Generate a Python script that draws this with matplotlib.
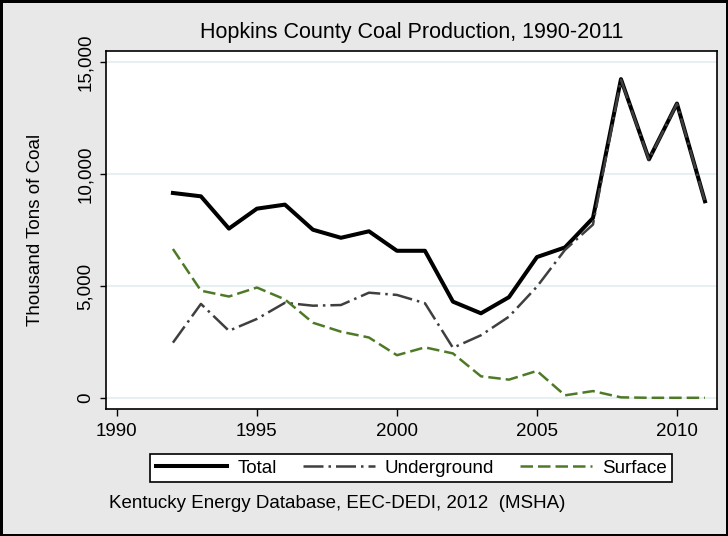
import matplotlib
matplotlib.use("Agg")
import matplotlib.pyplot as plt
from matplotlib.ticker import FuncFormatter

plt.rcParams['font.family'] = ['Liberation Sans', 'DejaVu Sans']

# Data (thousand tons)
years = list(range(1992, 2012))
total = [9150, 9000, 7560, 8450, 8630, 7510, 7150, 7440, 6570, 6570,
         4300, 3780, 4500, 6290, 6720, 8030, 14230, 10650, 13140, 8780]
underground = [2470, 4200, 3000, 3530, 4250, 4120, 4150, 4700, 4600, 4230,
               2240, 2800, 3630, 4970, 6610, 7740, 14200, 10640, 13130, 8770]
surface = [6650, 4790, 4530, 4930, 4400, 3360, 2960, 2700, 1910, 2260,
           1990, 970, 820, 1210, 120, 310, 30, 10, 10, 10]

x_ticks = [1990, 1995, 2000, 2005, 2010]
y_ticks = [0, 5000, 10000, 15000]

bg = '#e8e8e8'

fig = plt.figure(figsize=(7.28, 5.36), dpi=100)
fig.patch.set_facecolor(bg)
fig.patch.set_edgecolor('black')
fig.patch.set_linewidth(2.5)

ax = fig.add_axes([0.1456, 0.2369, 0.8393, 0.6682])
ax.set_facecolor('white')

ax.plot(years, total, color='black', lw=2.9, label='Total', zorder=3)
ax.plot(years, underground, color='#3f3f3f', lw=1.8, dashes=(8, 2, 1, 2),
        label='Underground', zorder=4)
ax.plot(years, surface, color='#4e7a27', lw=1.8, dashes=(5, 2),
        label='Surface', zorder=5)

ax.set_xlim(1989.61, 2011.43)
ax.set_ylim(-491, 15491)
ax.set_xticks(x_ticks)
ax.set_yticks(y_ticks)
ax.yaxis.set_major_formatter(FuncFormatter(lambda v, p: f'{int(v):,}'))
ax.tick_params(axis='x', length=5, width=1, labelsize=13.5, pad=5)
ax.tick_params(axis='y', length=4.5, width=1, labelsize=13.5, pad=4)
for lab in ax.get_yticklabels():
    lab.set_rotation(90)
    lab.set_va('center')

ax.grid(axis='y', color='#e2eded', lw=1.2)
ax.set_axisbelow(True)
for sp in ax.spines.values():
    sp.set_linewidth(1.2)

ax.set_ylabel('Thousand Tons of Coal', fontsize=13.5, labelpad=24)
ax.set_title('Hopkins County Coal Production, 1990-2011', fontsize=15.5, pad=9)

leg = fig.legend(loc='center', bbox_to_anchor=(0.5652, 0.1269), ncol=3,
                 fontsize=13.5, frameon=True, fancybox=False, edgecolor='black',
                 framealpha=1, handlelength=3.8, columnspacing=1.4,
                 handletextpad=0.55, borderpad=0.3)
leg.get_frame().set_linewidth(1.2)

fig.text(109 / 728, 1 - 503 / 536, 'Kentucky Energy Database, EEC-DEDI, 2012  (MSHA)',
         fontsize=13.5, va='center', ha='left')

fig.savefig('out.png', dpi=100, facecolor=fig.get_facecolor(), edgecolor='black')
